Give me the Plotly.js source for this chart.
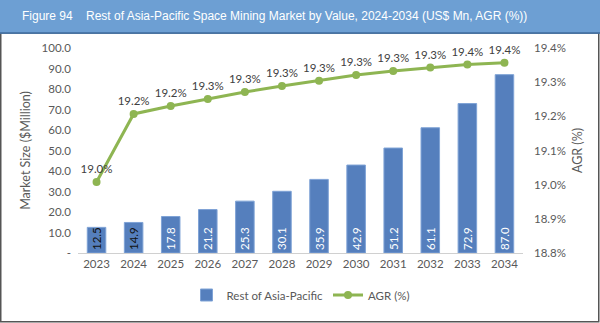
<!DOCTYPE html>
<html>
<head>
<meta charset="utf-8">
<script src="https://cdn.plot.ly/plotly-3.0.1.min.js"></script>
<style>html,body{margin:0;padding:0;background:#fff;}#chart{width:600px;height:323px;}</style>
</head>
<body>
<div id="chart"></div>
<script>
// Data
const years = ['2023','2024','2025','2026','2027','2028','2029','2030','2031','2032','2033','2034'];
const marketSize = [12.5, 14.9, 17.8, 21.2, 25.3, 30.1, 35.9, 42.9, 51.2, 61.1, 72.9, 87.0];
const agr = [19.008, 19.207, 19.230, 19.251, 19.271, 19.289, 19.304, 19.321, 19.333, 19.343, 19.352, 19.357];
const leftTickVals = [0, 10, 20, 30, 40, 50, 60, 70, 80, 90, 100];
const leftTickText = ['-', '10.0', '20.0', '30.0', '40.0', '50.0', '60.0', '70.0', '80.0', '90.0', '100.0'];
const rightTickVals = [18.8, 18.9, 19.0, 19.1, 19.2, 19.3, 19.4];
const rightTickText = ['18.8%', '18.9%', '19.0%', '19.1%', '19.2%', '19.3%', '19.4%'];
const seriesNames = ['Rest of Asia-Pacific', 'AGR (%)'];
const figureLabel = 'Figure 94';
const chartTitle = 'Rest of Asia-Pacific Space Mining Market by Value, 2024-2034 (US$ Mn, AGR (%))';

const W = 600, H = 323;
const M = {l: 78, r: 77, t: 48, b: 70};
const pw = W - M.l - M.r, ph = H - M.t - M.b;
const px2x = p => (p - M.l) / pw;
const py2y = p => (H - M.b - p) / ph;

const FONT = 'Lato, "Open Sans", sans-serif';
const GREY = '#595959';

const barTextColors = marketSize.map(v => v < 16 ? '#111111' : '#ffffff');

const traces = [
  {
    type: 'bar', name: seriesNames[0], x: years, y: marketSize,
    marker: {color: '#557fbd', line: {color: '#7fa3d6', width: 1}},
    texttemplate: '%{y:.1f}', textposition: 'inside', insidetextanchor: 'start',
    textangle: -90, constraintext: 'none', cliponaxis: false,
    textfont: {family: FONT, size: 11.5, color: barTextColors},
    insidetextfont: {family: FONT, size: 11.5, color: barTextColors},
    hoverinfo: 'skip'
  },
  {
    type: 'scatter', mode: 'lines+markers+text', name: seriesNames[1], x: years, y: agr,
    yaxis: 'y2',
    line: {color: '#8eb552', width: 3},
    marker: {color: '#8eb552', size: 8},
    texttemplate: '%{y:.1f}%', textposition: 'top center',
    textfont: {family: FONT, size: 11.5, color: '#404040'},
    cliponaxis: false, hoverinfo: 'skip'
  }
];

const layout = {
  width: W, height: H,
  margin: M,
  paper_bgcolor: '#ffffff', plot_bgcolor: '#ffffff',
  font: {family: FONT, color: GREY, size: 11.5},
  bargap: 0.5,
  showlegend: true,
  legend: {orientation: 'h', x: 0.5, xanchor: 'center', y: py2y(295), yanchor: 'middle',
           font: {family: FONT, size: 11.5, color: GREY}, itemwidth: 30, tracegroupgap: 0},
  xaxis: {
    type: 'category', showgrid: false, zeroline: false,
    showline: true, linecolor: '#d0d0d0', linewidth: 1,
    ticks: '', tickfont: {family: FONT, size: 11.5, color: GREY},
    range: [-0.5, 11.5], fixedrange: true
  },
  yaxis: {
    range: [0, 100], tickvals: leftTickVals, ticktext: leftTickText,
    showgrid: false, zeroline: false, showline: false, ticks: '',
    tickfont: {family: FONT, size: 11.5, color: GREY}, ticklabelstandoff: 6,
    title: {text: 'Market Size ($Million)', font: {family: FONT, size: 12.5, color: GREY}, standoff: 8},
    automargin: false
  },
  yaxis2: {
    overlaying: 'y', side: 'right', range: [18.8, 19.4],
    tickvals: rightTickVals, ticktext: rightTickText,
    showgrid: false, zeroline: false, showline: false, ticks: '',
    tickfont: {family: FONT, size: 11.5, color: GREY}, ticklabelstandoff: 10,
    title: {text: 'AGR (%)', font: {family: FONT, size: 12.5, color: GREY}, standoff: 8},
    automargin: false
  },
  shapes: [
    {type: 'rect', xref: 'paper', yref: 'paper', x0: px2x(0.75), x1: px2x(598.75), y0: py2y(321.75), y1: py2y(33),
     line: {color: '#555555', width: 1.5}, fillcolor: 'rgba(0,0,0,0)', layer: 'below'},
    {type: 'rect', xref: 'paper', yref: 'paper', x0: px2x(0), x1: px2x(600), y0: py2y(33.5), y1: py2y(0),
     line: {width: 0}, fillcolor: '#6d9fd3', layer: 'below'},
    {type: 'line', xref: 'paper', yref: 'paper', x0: px2x(0), x1: px2x(600), y0: py2y(33), y1: py2y(33),
     line: {color: '#3f6b9e', width: 1.5}}
  ],
  annotations: [
    {xref: 'paper', yref: 'paper', x: px2x(20), y: py2y(16), xanchor: 'left', yanchor: 'middle',
     text: figureLabel, showarrow: false, font: {family: 'Liberation Sans, Arial, sans-serif', size: 12, color: '#ffffff'}},
    {xref: 'paper', yref: 'paper', x: px2x(84), y: py2y(16), xanchor: 'left', yanchor: 'middle',
     text: chartTitle, showarrow: false, font: {family: 'Liberation Sans, Arial, sans-serif', size: 12, color: '#ffffff'}}
  ]
};

Plotly.newPlot('chart', traces, layout, {displayModeBar: false, staticPlot: true});
</script>
</body>
</html>
